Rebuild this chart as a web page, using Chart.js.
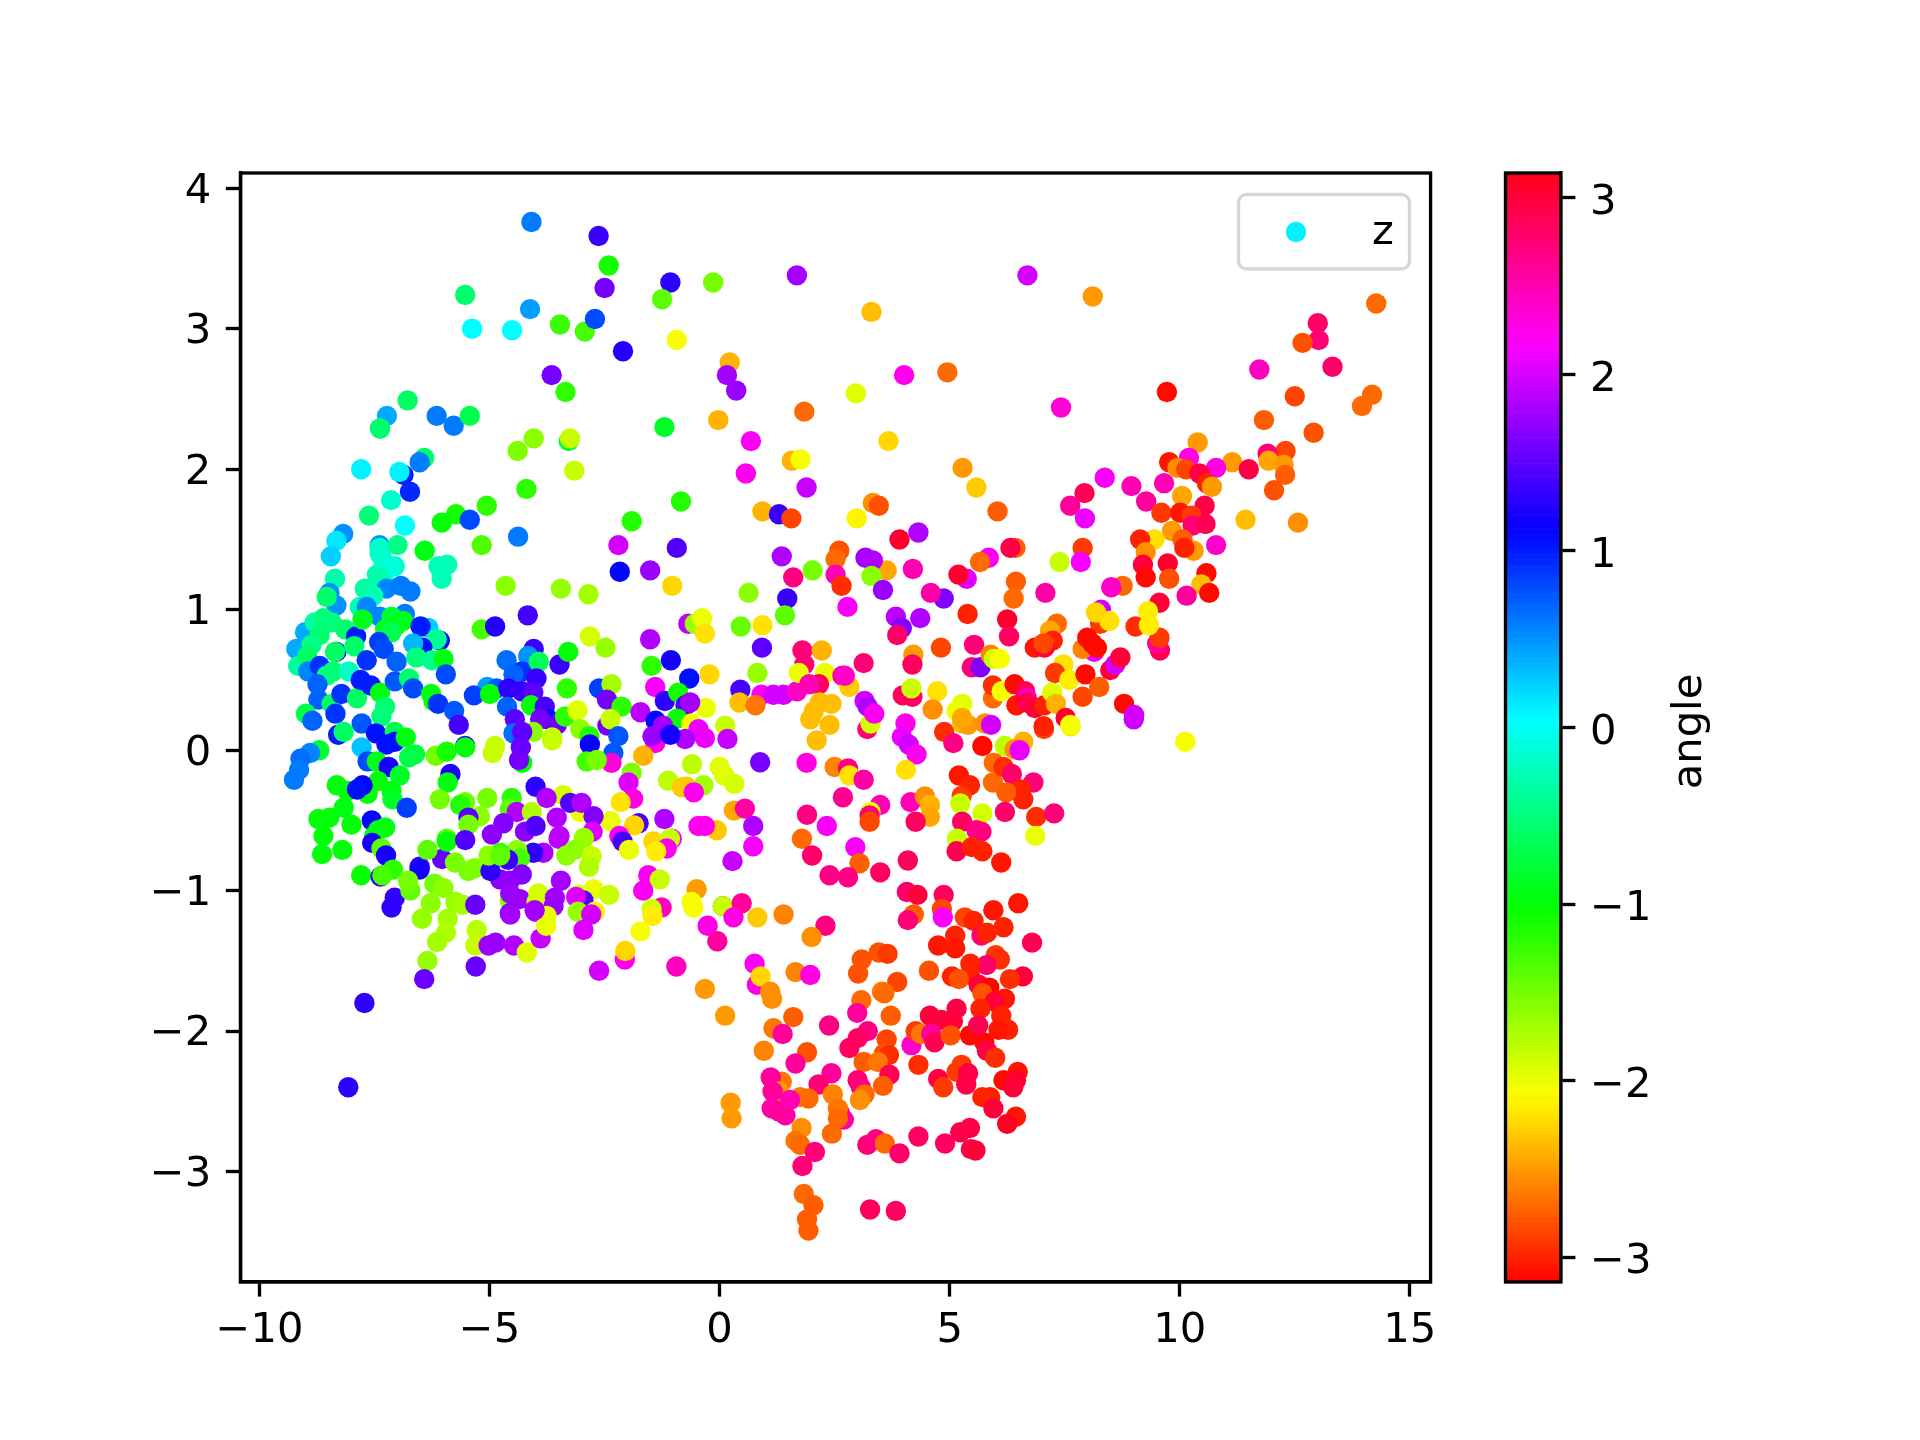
<!DOCTYPE html>
<html>
<head>
<meta charset="utf-8">
<title>angle scatter</title>
<script src="https://cdn.jsdelivr.net/npm/chart.js@4"></script>
<style>
html,body{margin:0;padding:0;background:#fff;}
#wrap{position:relative;width:1920px;height:1440px;}
canvas{position:absolute;left:0;top:0;}
</style>
</head>
<body>
<div id="wrap">
<canvas id="main" width="1920" height="1440"></canvas>
<canvas id="bar" width="1920" height="1440"></canvas>
</div>
<script>
const seriesLabel = 'z';
const colorbarLabel = 'angle';
const xTickValues = [-10,-5,0,5,10,15];
const yTickValues = [-3,-2,-1,0,1,2,3,4];
const barTickValues = [-3,-2,-1,0,1,2,3];
const legendAngle = 0.1;

const xUpper = [
-4.09,-2.63,-2.41,-2.50,-1.07,-1.25,-0.14,1.68,-5.53,-5.38,
-4.51,-4.12,-3.47,-2.93,-2.71,-2.10,-0.93,0.22,0.16,0.36,
-3.65,-3.35,-0.03,1.84,-6.78,-7.23,-7.38,-7.38,-6.15,-5.78,
-5.43,-1.20,-4.04,-4.39,-3.28,-3.25,-3.16,0.68,0.57,1.57,
1.76,1.89,-7.79,-6.42,-6.52,-6.87,-6.96,-6.73,-7.14,-7.62,
-6.84,-4.20,-5.06,-5.73,-6.04,-5.43,-5.17,-4.38,-0.84,-1.91,
0.93,1.29,1.56,-2.20,-0.93,-1.51,-2.17,-1.03,-6.41,-2.85,
1.35,1.60,2.02,0.63,1.47,1.42,-1.51,-0.68,-0.54,-0.38,
-0.32,0.46,0.93,0.92,-2.82,-2.48,-8.18,-8.33,-8.45,-7.39,
-7.39,-7.39,-7.00,-7.30,-7.06];
const yUpper = [
3.76,3.66,3.45,3.29,3.33,3.21,3.33,3.38,3.24,3.00,
2.99,3.14,3.03,2.98,3.07,2.84,2.92,2.76,2.67,2.56,
2.67,2.55,2.35,2.41,2.49,2.38,2.29,2.29,2.38,2.31,
2.38,2.30,2.22,2.13,2.20,2.22,1.99,2.20,1.97,2.06,
2.07,1.87,2.00,2.08,2.05,1.96,1.98,1.84,1.78,1.67,
1.60,1.86,1.74,1.68,1.62,1.64,1.46,1.52,1.77,1.63,
1.70,1.68,1.65,1.46,1.44,1.28,1.27,1.17,1.42,1.11,
1.38,1.23,1.28,1.12,1.08,0.96,0.79,0.90,0.90,0.94,
0.83,0.88,0.89,0.73,0.81,0.73,1.54,1.49,1.38,1.46,
1.44,1.40,1.46,1.32,1.31];
const angleUpper = [
0.6,1.35,-1.1,1.6,1.3,-1.4,-1.5,1.8,-0.55,0.05,
0.05,0.45,-1.25,-1.3,0.8,1.25,-2.05,-2.4,1.8,1.75,
1.6,-1.2,-2.4,-2.7,-0.6,0.4,-0.35,-0.55,0.6,0.6,
-0.7,-0.85,-1.6,-1.55,-0.8,-1.85,-1.85,2.2,2.25,-2.4,
-2.05,1.95,0.1,-0.6,0.6,1.0,0.1,0.95,-0.15,-0.5,
0.05,-1.2,-1.2,-1.1,-1.0,0.8,-1.35,0.6,-1.15,-1.15,
-2.4,1.35,-2.85,2.0,1.45,1.75,1.1,-2.25,-0.95,-1.7,
1.85,2.7,-1.5,-1.6,1.35,-1.4,1.85,1.9,-1.65,-2.0,
-2.2,-1.45,-2.2,1.5,-1.9,-1.65,0.5,0.15,0.25,0.5,
-0.2,-0.2,-0.45,-0.15,-0.15];

const xLeft = [
-8.36,-8.48,-8.33,-8.54,-9.01,-8.80,-8.61,-8.43,-8.69,-8.14,
-9.20,-9.16,-8.87,-8.96,-8.94,-8.69,-8.33,-8.36,-7.90,-7.94,
-8.40,-8.54,-8.06,-8.74,-8.72,-8.43,-8.22,-8.99,-8.85,-8.35,
-7.88,-7.80,-7.58,-7.38,-7.71,-7.38,-7.24,-6.93,-6.72,-7.53,
-7.82,-7.67,-7.38,-6.84,-7.13,-7.76,-7.27,-7.02,-6.88,-7.13,
-6.33,-6.50,-6.08,-6.15,-6.46,-6.66,-7.40,-7.30,-7.67,-7.02,
-6.59,-6.25,-6.00,-5.95,-7.06,-6.75,-6.66,-6.27,-6.22,-6.12,
-5.77,-5.67,-7.27,-7.35,-7.78,-8.29,-8.17,-7.47,-7.06,-7.24,
-7.06,-6.82,-7.78,-6.62,-6.75,-8.70,-8.90,-9.11,-9.14,-9.25,
-7.65,-7.45,-7.19,-6.95,-7.42,-8.32,-8.09,-7.65,-7.76,-7.88,
-7.13,-7.11,-6.80,-8.17,-8.72,-8.48,-8.00,-8.61,-7.56,-7.27,
-7.42,-6.17,-5.93,-5.53,-5.53,-5.85,-5.91,-6.08,-6.11,-6.04,
-5.92];
const yLeft = [
1.22,1.12,1.03,1.09,0.84,0.91,0.94,0.91,0.82,0.86,
0.72,0.60,0.75,0.67,0.56,0.60,0.70,0.70,0.81,0.74,
0.56,0.53,0.56,0.47,0.36,0.33,0.40,0.26,0.21,0.26,
0.37,0.50,0.46,0.41,1.15,1.23,1.15,1.17,1.13,1.10,
1.02,1.02,0.95,0.97,0.95,0.93,0.86,0.89,0.92,0.84,
0.87,0.88,0.78,0.79,0.73,0.76,0.77,0.72,0.64,0.63,
0.66,0.64,0.65,0.54,0.49,0.51,0.44,0.40,0.35,0.33,
0.28,0.18,0.31,0.24,0.19,0.11,0.13,0.12,0.13,0.04,
0.06,0.09,0.02,-0.03,-0.05,0.00,-0.02,-0.06,-0.14,-0.21,
-0.08,-0.08,-0.12,-0.18,-0.22,-0.25,-0.29,-0.31,-0.25,-0.28,
-0.29,-0.35,-0.41,-0.41,-0.49,-0.48,-0.53,-0.61,-0.50,-0.55,
-0.57,-0.04,-0.01,0.03,0.02,-0.17,-0.23,-0.35,1.31,1.22,
1.32];
const angleLeft = [
-0.3,0.5,0.5,-0.55,0.4,-0.35,-0.5,-0.5,-0.55,-0.55,
0.4,-0.35,-0.45,-0.6,0.55,0.9,1.0,-0.6,1.0,-0.55,
-0.55,-0.5,-0.2,0.7,0.7,-0.6,0.9,-0.7,0.7,0.9,
-0.6,1.0,1.0,-0.95,-0.35,-0.3,0.55,0.6,0.6,-0.25,
-0.25,0.55,0.55,0.6,-0.8,-0.9,-0.85,-0.95,-0.9,-0.7,
0.25,1.0,1.05,-0.4,1.05,0.35,0.85,0.8,0.9,0.7,
-0.5,-0.4,-0.95,0.8,0.75,-0.55,0.8,-1.0,-0.95,0.9,
0.75,1.4,-0.55,-0.5,0.75,1.0,-0.6,1.05,-0.7,1.05,
1.05,-0.95,0.3,-0.75,-0.7,-0.8,0.55,0.65,0.6,0.6,
0.8,-0.9,1.2,-0.85,-1.0,-0.95,-1.0,-1.0,1.1,1.05,
-0.95,-0.85,0.85,-0.95,-1.0,-1.0,-1.0,-1.0,1.1,-0.95,
-1.0,-1.5,-1.1,1.3,-1.0,1.25,-0.95,-1.5,-0.25,-0.25,
-0.25];

const xMiddle = [
-5.17,-4.88,-4.17,-4.65,-3.45,-4.04,-4.63,-4.16,-4.30,-4.48,
-3.93,-3.98,-3.48,-3.29,-3.32,-5.05,-5.34,-4.85,-4.99,-4.59,
-4.30,-4.05,-4.62,-4.10,-3.80,-4.45,-4.48,-3.72,-3.54,-3.36,
-3.90,-4.05,-4.29,-3.64,-3.64,-4.88,-4.93,-4.32,-4.29,-4.36,
-4.00,-3.40,-3.76,-4.52,-5.05,-5.53,-5.64,-5.21,-5.46,-5.46,
-4.56,-4.41,-4.08,-4.70,-4.95,-4.23,-4.00,-3.54,-3.48,-5.93,
-1.06,-1.48,-0.22,-0.66,0.82,-1.40,-2.62,-2.35,-2.45,-2.13,
-1.72,-1.19,-0.90,-0.74,-0.30,-0.64,-1.39,-0.92,-0.61,0.12,
0.17,-0.46,-0.32,-0.75,-1.23,-1.40,-1.46,-1.07,-1.66,-3.09,
-3.03,-2.83,-2.82,-2.44,-2.37,-2.20,-2.31,-2.35,-2.89,-2.67,
-1.91,-1.98,-1.88,-2.15,-0.60,-1.12,-0.82,-0.72,-0.35,-0.56,
0.00,0.10,0.32,0.88,0.31,0.55,0.73,0.73,0.28,-0.06,
-0.46,-0.32,-1.20,-1.76,-1.86,-2.37,-2.18,-2.11,-1.97,-1.44,
-1.04,-1.08,-1.15,-1.38,-1.55,-1.30,-1.66,-0.50,-0.61,-0.57,
0.07,0.07,0.48,-1.26,-1.48,0.82,1.39,0.30,0.45,0.91,
0.43,0.78,1.17,1.39,1.68,1.80,2.22,1.84,1.72,2.29,
2.16,1.95,1.97,2.05,2.43,2.18,2.39];
const yMiddle = [
0.86,0.88,0.96,1.17,1.15,0.72,0.64,0.67,0.56,0.54,
0.63,0.51,0.61,0.70,0.44,0.45,0.39,0.44,0.40,0.44,
0.42,0.41,0.31,0.32,0.31,0.22,0.12,0.22,0.18,0.24,
0.22,0.13,0.13,0.07,0.09,0.03,-0.02,0.02,-0.09,-0.07,
-0.26,-0.32,-0.34,-0.34,-0.34,-0.37,-0.39,-0.47,-0.48,-0.53,
-0.42,-0.44,-0.44,-0.52,-0.60,-0.58,-0.54,-0.48,-0.61,-0.63,
0.64,0.60,0.54,0.51,0.55,0.45,0.44,0.47,0.36,0.31,
0.27,0.35,0.41,0.32,0.30,0.34,0.21,0.225,0.19,0.175,
0.08,0.15,0.087,0.08,0.175,0.05,0.10,0.11,-0.04,0.284,
0.15,0.10,0.04,0.175,0.22,0.10,-0.02,-0.09,-0.08,-0.07,
-0.16,-0.23,-0.345,-0.37,-0.10,-0.217,-0.264,-0.26,-0.25,-0.30,
-0.12,-0.18,-0.24,-0.086,-0.43,-0.416,-0.54,-0.684,-0.79,-0.57,
-0.54,-0.54,-0.49,-0.52,-0.535,-0.506,-0.61,-0.65,-0.71,-0.65,
-0.63,-0.63,-0.70,-0.72,-0.89,-0.92,-1.00,-0.99,-1.08,-1.12,
-1.11,-1.11,-1.09,-1.12,-1.13,-1.19,-1.17,-1.19,0.43,0.395,
0.34,0.32,0.395,0.395,0.42,0.71,0.71,0.61,0.55,0.55,
0.47,0.47,0.22,0.28,0.33,0.34,0.18];
const angleMiddle = [
-1.3,1.25,1.4,-1.6,-1.65,1.35,0.65,0.5,0.9,0.7,
-0.65,1.35,1.35,-1.0,-1.2,0.45,0.85,0.75,-1.0,1.3,
1.35,1.5,0.7,-1.0,1.4,1.5,0.65,1.05,1.55,-1.2,
1.6,-1.6,1.5,-1.85,-1.85,-1.85,-1.85,1.55,-1.0,1.6,
1.3,-1.9,1.85,-1.2,-1.5,-1.45,-1.15,-1.6,1.5,-1.5,
-1.4,1.85,-1.75,1.65,1.7,1.7,1.45,1.85,1.9,-1.4,
1.2,-1.2,-2.25,1.05,-1.65,2.15,0.85,-1.7,1.6,-1.2,
1.9,1.3,-1.1,1.4,-2.0,1.8,1.1,-1.05,-2.05,-1.85,
1.95,2.1,2.1,1.85,1.8,2.3,1.75,1.2,-2.4,-1.95,
-1.6,-1.15,1.15,1.6,-1.85,0.75,0.75,2.35,-1.3,-1.5,
-1.55,2.05,2.3,-2.2,-1.8,-1.8,-2.3,-2.3,-1.7,2.25,
-1.95,-1.95,-1.9,1.6,-2.45,2.55,1.85,2.15,1.95,-2.3,
2.25,2.25,1.85,1.4,-2.25,-2.0,2.2,1.4,-2.0,-2.25,
2.1,-1.85,2.25,-2.15,2.2,-1.85,2.2,-2.5,-2.05,-2.05,
2.0,-1.85,2.6,2.45,-1.9,-2.3,-2.6,2.3,1.4,2.2,
-2.35,-2.65,2.0,2.0,2.4,2.75,-2.4,2.75,-2.0,-2.0,
2.85,2.5,-2.35,-2.35,-2.35,-2.35,-2.35];

const xLowerLeft = [
-3.03,-3.25,-3.00,-2.74,-2.76,-3.50,-2.95,-3.16,-3.33,-2.78,
-2.84,-3.83,-4.05,-4.40,-4.34,-4.60,-4.77,-4.30,-3.45,-4.56,
-4.77,-4.56,-4.55,-4.34,-3.94,-3.98,-3.58,-3.61,-4.00,-4.56,
-3.07,-2.74,-2.40,-2.96,-3.12,-3.08,-2.71,-3.76,-7.79,-8.64,
-8.20,-7.51,-7.55,-7.35,-7.25,-7.10,-7.37,-7.33,-7.06,-7.13,
-6.52,-6.52,-6.03,-6.35,-5.93,-5.53,-6.72,-6.77,-6.20,-6.00,
-6.28,-5.74,-6.47,-5.91,-5.58,-5.31,-5.75,-5.46,-5.33,-4.98,
-5.02,-4.77,-5.95,-6.14,-5.28,-5.31,-6.35,-6.42,-5.30,-5.02,
-4.87,-4.47,-4.19,-3.89,-3.77,-4.55,-4.02,-2.79,-2.96,-2.62,
-2.06,-2.05,-1.72,-1.46,-0.94,-0.26,-0.05,-7.72,-8.07];
const yLowerLeft = [
-0.44,-0.375,-0.375,-0.47,-0.58,-0.63,-0.625,-0.71,-0.75,-0.755,
-0.83,-0.73,-0.73,-0.71,-0.77,-0.78,-0.73,-0.885,-0.93,-0.93,
-0.92,-1.07,-1.02,-1.06,-1.02,-1.08,-1.05,-1.11,-1.15,-1.16,
-1.03,-0.99,-1.03,-1.07,-1.045,-1.15,-1.15,-1.18,-0.89,-0.74,
-0.71,-0.61,-0.66,-0.70,-0.75,-0.85,-0.90,-0.89,-1.05,-1.12,
-0.83,-0.85,-0.775,-0.71,-0.65,-0.64,-1.00,-0.93,-0.95,-0.98,
-1.09,-1.08,-1.20,-1.20,-1.10,-1.10,-0.80,-0.86,-0.84,-0.86,
-0.75,-0.75,-1.30,-1.365,-1.28,-1.39,-1.50,-1.63,-1.54,-1.39,
-1.37,-1.39,-1.44,-1.34,-1.25,-1.17,-1.14,-1.17,-1.28,-1.57,
-1.49,-1.43,-1.29,-1.18,-1.54,-1.25,-1.36,-1.80,-2.40];
const angleLowerLeft = [
-2.0,1.45,1.85,1.65,2.05,1.9,-1.65,-1.6,-1.6,-1.85,
-1.75,1.85,1.3,-1.6,-1.3,1.35,-1.2,1.65,1.8,1.7,
1.7,-1.6,1.75,1.75,-1.9,-1.9,1.8,1.75,1.9,1.55,
-1.9,-2.0,-1.85,1.45,2.05,-1.65,-2.1,-2.0,-1.05,-1.0,
-1.0,-0.95,1.2,-1.4,1.2,-1.2,1.3,-1.3,1.3,1.3,
1.35,1.2,1.55,-1.4,-1.0,1.45,-1.45,-1.5,-1.5,-1.6,
-1.6,-1.65,-1.65,-1.7,-1.7,1.55,-1.5,-1.5,-1.55,1.3,
-1.6,-1.4,-1.75,-1.7,-1.8,-1.85,-1.65,1.55,1.55,1.75,
1.75,1.85,-1.95,1.95,-2.0,1.8,1.8,2.0,2.05,2.0,
2.25,-2.25,-2.05,-2.15,2.45,2.3,2.6,1.3,1.3];

const xLowerRight = [
0.76,0.81,0.89,1.10,1.14,-0.32,0.12,1.60,1.17,1.37,
0.96,1.90,1.65,0.24,0.26,2.11,3.21,3.28,4.04,4.88,
5.08,5.71,5.27,5.40,5.77,5.90,6.20,6.60,6.41,6.52,
7.05,7.63,9.00,10.12,3.96,4.11,4.28,4.05,1.89,2.50,
2.79,2.82,3.13,2.68,3.49,3.28,3.26,3.26,4.15,4.46,
4.57,4.57,4.26,1.90,2.33,1.79,2.01,2.95,3.04,2.39,
2.79,3.49,4.09,5.20,5.44,5.94,5.96,6.17,6.35,6.82,
6.55,6.60,6.23,5.26,5.23,5.71,6.20,6.88,7.27,6.86,
5.27,5.58,5.69,5.16,5.15,5.48,5.71,6.12,4.07,4.30,
4.87,4.83,4.22,4.09,4.85,5.33,5.52,5.95,6.49,6.17,
5.69,5.81,5.12,4.75,5.12,6.79,6.00,6.09,5.80,5.45,
5.44,4.55,5.05,5.20,6.59,6.31,5.63,5.86,5.71,6.20,
5.98,5.67,5.15,6.12,4.57,5.07,4.82,3.86,3.46,3.65,
3.09,3.01,3.53,3.58,3.08,2.99,3.72,2.38,3.22,3.00,
2.82,3.63,3.57,3.68,3.13,3.44,3.69,2.43,2.15,1.75,
1.93,2.46,3.00,3.07,3.15,3.05,3.55,1.35,1.11,1.28,
1.15,1.13,1.43,1.28,1.53,1.78,1.65,1.75,2.07,1.80,
2.44,2.61,2.70,2.57,2.57,4.32,4.17,4.26,4.38,4.60,
4.67,5.02,5.44,5.75,5.81,5.99,6.27,6.06,5.62,4.75,
4.86,5.15,5.26,5.40,5.36,6.17,6.48,6.44,6.38,5.71,
5.88,5.95,6.44,6.25,5.44,5.23,4.32,4.90,5.46,5.56,
3.21,3.40,3.59,3.91,1.83,2.04,1.90,1.93,3.27,3.83,
1.65,1.97,2.30,2.00];
const yLowerRight = [
-1.52,-1.67,-1.61,-1.72,-1.77,-1.70,-1.89,-1.90,-1.98,-2.02,
-2.14,-2.15,-2.23,-2.51,-2.62,0.07,0.15,0.19,0.19,0.13,
0.05,0.03,0.19,0.18,0.19,0.18,0.03,0.06,0.006,0.00,
0.15,0.17,0.22,0.06,0.095,0.04,-0.03,-0.14,-0.09,-0.12,
-0.13,-0.18,-0.21,-0.335,-0.39,-0.44,-0.465,-0.51,-0.37,-0.33,
-0.39,-0.475,-0.51,-0.46,-0.54,-0.63,-0.75,-0.69,-0.805,-0.89,
-0.905,-0.87,-0.785,-0.18,-0.25,-0.23,-0.09,-0.12,-0.17,-0.23,
-0.28,-0.35,-0.30,-0.325,-0.38,-0.45,-0.44,-0.475,-0.45,-0.61,
-0.51,-0.57,-0.58,-0.63,-0.72,-0.69,-0.72,-0.80,-1.01,-1.03,
-1.03,-1.13,-1.17,-1.21,-1.19,-1.19,-1.215,-1.14,-1.09,-1.26,
-1.32,-1.30,-1.32,-1.39,-1.41,-1.37,-1.46,-1.49,-1.53,-1.52,
-1.60,-1.57,-1.61,-1.63,-1.61,-1.63,-1.67,-1.69,-1.73,-1.77,
-1.79,-1.84,-1.84,-1.89,-1.89,-1.93,-1.92,-1.65,-1.44,-1.45,
-1.49,-1.59,-1.72,-1.73,-1.78,-1.87,-1.89,-1.96,-2.00,-2.05,
-2.12,-2.06,-2.16,-2.17,-2.22,-2.22,-2.31,-2.30,-2.38,-2.47,
-2.48,-2.45,-2.35,-2.40,-2.45,-2.49,-2.39,-2.36,-2.33,-2.43,
-2.43,-2.55,-2.60,-2.57,-2.49,-2.69,-2.78,-2.81,-2.86,-2.96,
-2.73,-2.58,-2.63,-2.55,-2.62,-2.24,-2.10,-2.00,-2.02,-2.02,
-2.08,-2.03,-2.03,-2.08,-2.14,-2.19,-1.99,-1.99,-1.96,-2.34,
-2.40,-2.29,-2.24,-2.30,-2.38,-2.35,-2.29,-2.35,-2.40,-2.47,
-2.47,-2.55,-2.61,-2.66,-2.69,-2.72,-2.75,-2.80,-2.84,-2.85,
-2.81,-2.77,-2.80,-2.87,-3.16,-3.24,-3.34,-3.42,-3.27,-3.28,
-1.58,-1.60,-1.25,-1.33];
const angleLowerRight = [
2.2,2.3,-2.25,-2.55,-2.55,-2.5,-2.5,-2.75,-2.65,2.6,
-2.6,-2.8,2.6,-2.5,-2.5,-2.35,2.75,-1.9,2.25,-2.95,
2.7,-3.1,-2.35,-2.5,-2.55,2.0,-1.8,-2.4,-2.55,2.1,
-2.85,-2.15,1.95,-2.05,2.1,2.0,2.25,-2.2,2.3,-2.6,
2.7,-2.2,2.55,2.65,2.5,-2.0,2.75,-2.85,2.5,-2.55,
-2.4,-2.45,2.85,2.7,2.2,-2.7,2.8,2.2,-2.75,2.7,
2.7,2.85,2.85,-3.05,-3.0,-2.7,-2.7,-2.95,2.8,2.75,
-3.0,-3.0,-2.75,-2.9,-1.85,-1.9,2.8,-2.95,2.75,-2.0,
2.85,2.65,2.7,-1.85,2.9,-3.0,-3.0,-3.05,2.8,3.0,
2.85,-2.85,-2.75,2.75,2.2,-2.85,-3.0,-3.05,-3.05,-3.0,
2.8,-3.0,-3.0,-3.05,-3.05,2.9,-2.9,-2.95,2.8,-3.0,
-3.0,-2.8,-3.0,-2.8,3.0,-2.95,3.0,-3.12,-2.8,-3.05,
3.0,-3.0,2.95,-3.0,3.0,3.0,3.0,-2.85,-2.8,-2.9,
-2.8,-2.8,-2.65,-2.7,-2.7,2.6,-2.75,2.7,2.7,2.85,
2.85,-2.85,-2.8,-2.95,-2.75,-2.65,2.9,2.6,2.75,-2.65,
-2.7,-2.6,2.75,2.7,-2.7,-2.55,-2.75,-2.65,2.6,-2.5,
2.6,2.55,2.55,2.6,2.5,-2.55,-2.65,-2.7,2.75,2.75,
-2.7,2.5,2.55,-2.65,-2.7,-2.95,2.4,-2.9,-2.65,2.6,
2.9,-2.8,-3.1,-3.1,2.95,-2.95,-3.0,-3.05,2.9,2.95,
-2.9,-2.9,-2.9,2.95,2.95,-3.1,-3.05,3.05,3.0,-3.0,
-3.0,3.0,-3.05,3.1,2.95,2.95,2.85,2.85,2.95,3.0,
2.75,2.7,-2.7,2.8,-2.7,-2.75,-2.75,-2.75,2.85,2.85,
-2.6,2.3,2.7,-2.55];

const xRight = [
6.69,8.11,14.27,3.30,13.00,13.02,12.67,4.01,4.95,2.96,
11.73,13.32,9.72,12.50,14.18,13.96,7.42,11.83,12.91,3.67,
10.39,12.30,11.91,10.20,9.77,5.28,11.14,11.50,10.79,9.95,
10.14,10.43,11.93,12.26,12.29,12.05,10.59,10.70,8.37,8.95,
9.66,5.58,10.05,7.93,9.27,7.62,7.94,10.54,9.60,10.01,
10.26,10.28,10.56,11.43,12.57,3.33,3.46,2.98,6.04,10.79,
9.83,10.06,10.30,10.10,9.45,9.14,9.26,9.20,9.26,9.74,
9.77,10.58,10.47,10.64,10.15,9.56,8.76,8.51,7.89,7.85,
7.39,7.08,6.44,6.39,6.43,6.32,5.85,5.66,5.37,5.19,
4.87,4.59,4.20,3.91,4.32,3.63,3.17,3.33,3.30,3.55,
2.60,2.52,2.52,2.65,2.78,3.83,4.36,3.96,3.86,5.39,
4.81,6.25,6.29,5.53,4.21,4.19,3.13,2.67,2.82,3.15,
3.22,3.36,3.98,4.19,4.17,4.73,4.63,5.27,5.15,5.27,
5.48,5.67,5.89,5.96,6.09,5.94,5.94,6.13,6.41,6.64,
6.68,6.45,6.68,6.85,7.06,7.23,7.31,7.52,7.04,7.62,
7.47,7.29,7.60,7.95,7.89,8.25,8.79,9.01,8.49,8.60,
8.71,9.57,9.51,9.56,9.04,9.33,9.31,8.27,8.29,8.47,
8.18,8.14,7.89,7.99,8.10,8.20,7.33,7.18,7.24,6.85,
7.06,7.04,2.72];
const yRight = [
3.38,3.23,3.18,3.12,3.04,2.92,2.90,2.67,2.69,2.54,
2.71,2.73,2.55,2.52,2.53,2.45,2.44,2.35,2.26,2.20,
2.19,2.13,2.11,2.08,2.05,2.01,2.05,2.00,2.01,2.01,
2.00,1.97,2.06,2.03,1.96,1.85,1.90,1.875,1.94,1.88,
1.90,1.87,1.81,1.83,1.77,1.74,1.65,1.74,1.69,1.69,
1.67,1.60,1.61,1.64,1.62,1.76,1.74,1.65,1.70,1.46,
1.56,1.50,1.42,1.44,1.50,1.50,1.41,1.32,1.23,1.33,
1.22,1.26,1.18,1.12,1.10,1.05,1.17,1.16,1.44,1.34,
1.34,1.12,1.20,1.08,1.44,1.44,1.37,1.34,1.22,1.25,
1.08,1.12,1.29,1.50,1.55,1.28,1.37,1.35,1.24,1.14,
1.42,1.36,1.25,1.17,1.02,0.95,0.94,0.87,0.82,0.97,
0.73,0.93,0.81,0.75,0.68,0.61,0.62,0.53,0.45,0.35,
0.31,0.26,0.39,0.38,0.44,0.42,0.29,0.33,0.28,0.23,
0.59,0.59,0.68,0.65,0.65,0.37,0.46,0.42,0.47,0.42,
0.37,0.32,0.34,0.30,0.32,0.41,0.33,0.23,0.17,0.18,
0.61,0.55,0.50,0.54,0.38,0.45,0.33,0.25,0.57,0.61,
0.66,0.71,0.76,0.80,0.88,0.89,0.99,0.90,1.00,0.92,
0.98,0.70,0.72,0.80,0.76,0.73,0.90,0.85,0.78,0.73,
0.73,0.76,0.53];
const angleRight = [
2.0,-2.5,-2.7,-2.35,2.8,2.75,-2.8,2.25,-2.7,-1.95,
2.45,2.8,-3.1,-2.85,-2.7,-2.7,2.35,-2.75,-2.8,-2.25,
-2.5,-2.85,2.75,2.3,-3.05,-2.5,-2.5,2.95,2.3,-2.55,
-2.85,2.95,-2.45,-2.5,-2.75,-2.8,-3.0,-2.5,2.2,2.5,
2.5,-2.3,-2.45,2.9,2.6,2.6,2.1,2.95,-2.9,-3.05,
-2.9,2.75,2.9,-2.35,-2.55,-2.55,-2.8,-2.1,-2.75,2.4,
-2.5,-2.75,-2.5,-3.0,-2.2,-3.0,-2.55,3.0,-3.1,3.05,
-2.8,-3.1,-2.35,-3.1,2.6,3.0,-2.7,2.4,-2.9,2.15,
-1.85,2.55,-2.75,-2.7,-2.75,2.95,2.2,-2.7,2.05,3.05,
1.65,2.55,2.5,3.05,1.85,-2.45,1.8,1.85,-1.6,1.75,
-2.8,-2.7,2.5,-2.95,2.2,1.9,1.85,1.65,2.8,-3.0,
-2.85,3.05,2.85,2.75,-2.5,2.85,2.75,2.6,-2.3,2.0,
1.85,2.2,2.85,2.85,-1.85,-2.2,-2.55,-1.95,-2.0,-2.45,
2.75,1.65,-2.6,-1.85,-2.05,-2.7,-2.95,-2.05,-3.1,2.9,
2.4,-3.05,2.9,3.0,-3.0,-1.95,-2.4,3.05,-3.0,-2.05,
-2.2,-2.9,-2.15,-3.1,-2.85,-2.75,-3.1,2.0,3.0,2.0,
3.0,2.9,2.6,-2.9,-2.95,-2.15,-2.15,-2.9,2.0,-2.2,
-2.25,2.1,-2.6,-3.1,-3.1,-3.1,-2.7,-2.45,-3.0,-3.05,
3.0,-2.85,2.4];

const xCluster = [-7.35,-7.25,-7.30,-7.15,-7.45];
const yCluster = [1.38,1.30,1.20,1.30,1.25];
const angleCluster = [-0.15,-0.2,-0.2,-0.1,-0.25];

const groups = [
  [xUpper,yUpper,angleUpper],[xCluster,yCluster,angleCluster],[xLeft,yLeft,angleLeft],[xMiddle,yMiddle,angleMiddle],
  [xLowerLeft,yLowerLeft,angleLowerLeft],[xLowerRight,yLowerRight,angleLowerRight],[xRight,yRight,angleRight]
];
const points = [], angles = [];
groups.forEach(function(g){
  const n = Math.min(g[0].length,g[1].length,g[2].length);
  for (let i=0;i<n;i++){ points.push({x:g[0][i],y:g[1][i]}); angles.push(g[2][i]); }
});

/* matplotlib hsv colormap */
const hsvR=[[0,1],[.15873,1],[.174603,.96875],[.333333,.03125],[.349206,0],[.666667,0],[.68254,.03125],[.84127,.96875],[.857143,1],[1,1]];
const hsvG=[[0,0],[.15873,.9375],[.174603,1],[.507937,1],[.666667,.0625],[.68254,0],[1,0]];
const hsvB=[[0,0],[.333333,0],[.349206,.0625],[.507937,1],[.84127,1],[.857143,.9375],[1,.09375]];
function lerpTable(tab,t){
  for(let i=1;i<tab.length;i++){ if(t<=tab[i][0]){ const a=tab[i-1],b=tab[i]; return a[1]+(b[1]-a[1])*(t-a[0])/(b[0]-a[0]); } }
  return tab[tab.length-1][1];
}
function angleColor(a){
  const t=Math.max(0,Math.min(1,(a+Math.PI)/(2*Math.PI)));
  return 'rgb('+Math.round(255*lerpTable(hsvR,t))+','+Math.round(255*lerpTable(hsvG,t))+','+Math.round(255*lerpTable(hsvB,t))+')';
}

const FONT='"DejaVu Sans"';
const FS=41.67, LW=3.33, TL=14.6;
const tickFont={family:FONT,size:FS};
const minusLabel=function(v){return String(v).replace('-','\u2212');};
function fixedTicks(values){ return function(scale){ scale.ticks=values.map(function(v){return {value:v};}); }; }
function axisGrid(){ return {display:true,drawOnChartArea:false,drawTicks:true,tickLength:TL,tickWidth:LW,tickColor:'#000'}; }

const framePlugin={id:'frame',afterDraw(chart){
  const a=chart.chartArea,c=chart.ctx;
  c.save();c.strokeStyle='#000';c.lineWidth=LW;c.strokeRect(a.left,a.top,a.right-a.left,a.bottom-a.top);c.restore();
}};
const legendBoxPlugin={id:'legendBox',afterDraw(chart){
  const c=chart.ctx;
  c.save();
  c.strokeStyle='rgba(204,204,204,0.8)';c.lineWidth=LW;c.fillStyle='rgba(255,255,255,0.8)';
  c.beginPath();c.roundRect(1238.5,194.5,171,74.5,8);c.fill();c.stroke();
  c.fillStyle=angleColor(legendAngle);c.beginPath();c.arc(1296,232,10.2,0,Math.PI*2);c.fill();
  c.fillStyle='#000';c.font=FS+'px '+FONT;c.textAlign='center';c.textBaseline='alphabetic';
  c.fillText(chart.data.datasets[0].label,1383,244);
  c.restore();
}};

new Chart(document.getElementById('main'),{
  type:'scatter',
  data:{datasets:[{label:seriesLabel,data:points,
    backgroundColor:angles.map(angleColor),borderWidth:0,pointRadius:10.2,pointHoverRadius:10.2}]},
  options:{
    responsive:false,animation:false,events:[],
    layout:{padding:{left:0,top:173,right:1920-1430.6,bottom:0}},
    plugins:{legend:{display:false},tooltip:{enabled:false}},
    scales:{
      x:{type:'linear',min:-10.415,max:15.452,afterBuildTicks:fixedTicks(xTickValues),
        afterFit(s){s.height=1440-1282;},
        grid:axisGrid(),border:{display:true,width:LW,color:'#000'},
        ticks:{font:tickFont,color:'#000',padding:10,maxRotation:0,autoSkip:false,callback:minusLabel}},
      y:{type:'linear',min:-3.786,max:4.109,afterBuildTicks:fixedTicks(yTickValues),
        afterFit(s){s.width=240.4;},
        grid:axisGrid(),border:{display:true,width:LW,color:'#000'},
        ticks:{font:tickFont,color:'#000',padding:14.6,labelOffset:3.5,autoSkip:false,callback:minusLabel}}
    }
  },
  plugins:[framePlugin,legendBoxPlugin]
});

const gradientPlugin={id:'gradient',beforeDatasetsDraw(chart){
  const a=chart.chartArea,c=chart.ctx,s=chart.scales.y;
  const levels=256;
  for(let i=0;i<levels;i++){
    const v0=-Math.PI+2*Math.PI*i/levels, v1=-Math.PI+2*Math.PI*(i+1)/levels;
    const y0=s.getPixelForValue(v0), y1=s.getPixelForValue(v1);
    c.fillStyle=angleColor((v0+v1)/2);
    c.fillRect(a.left,y1,a.right-a.left,y0-y1+0.6);
  }
}};
const barTitlePlugin={id:'barTitle',afterDraw(chart){
  const c=chart.ctx,a=chart.chartArea;
  c.save();c.translate(1690,(a.top+a.bottom)/2+4);c.rotate(-Math.PI/2);
  c.font=FS+'px '+FONT;c.fillStyle='#000';c.textAlign='center';c.textBaseline='middle';
  c.fillText(colorbarLabel,0,0);c.restore();
}};
new Chart(document.getElementById('bar'),{
  type:'scatter',
  data:{datasets:[{label:colorbarLabel,data:[],pointRadius:0}]},
  options:{
    responsive:false,animation:false,events:[],
    layout:{padding:{left:1505.5,top:173,right:0,bottom:158}},
    plugins:{legend:{display:false},tooltip:{enabled:false}},
    scales:{
      x:{type:'linear',display:false,min:0,max:1},
      y:{type:'linear',position:'right',min:-Math.PI,max:Math.PI,afterBuildTicks:fixedTicks(barTickValues),
        afterFit(s){s.width=1920-1560.8;},
        grid:axisGrid(),border:{display:true,width:LW,color:'#000'},
        ticks:{font:tickFont,color:'#000',padding:14.6,labelOffset:5.5,autoSkip:false,callback:minusLabel}}
    }
  },
  plugins:[gradientPlugin,framePlugin,barTitlePlugin]
});
</script>
</body>
</html>
